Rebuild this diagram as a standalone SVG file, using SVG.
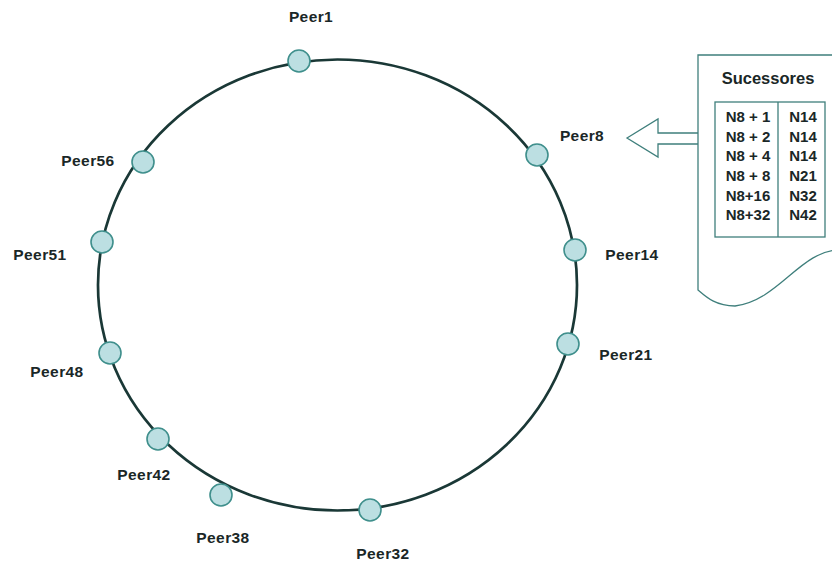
<svg xmlns="http://www.w3.org/2000/svg" width="832" height="562" viewBox="0 0 832 562">
<style>
.lbl{font-family:"Liberation Sans",Arial,sans-serif;font-weight:bold;font-size:15.5px;fill:#1a2727;letter-spacing:0.4px}
.tb{font-family:"Liberation Sans",Arial,sans-serif;font-weight:bold;font-size:15px;fill:#1a2727}
.node{fill:#bcdfe2;stroke:#3f8f8c;stroke-width:1.6}
.doc{fill:#fff;stroke:#3f7f7c;stroke-width:1.3}
</style>
<rect width="832" height="562" fill="#fff"/>
<g id="connectors">
<ellipse cx="337.5" cy="285" rx="239.5" ry="225.5" fill="none" stroke="#1a3836" stroke-width="2.7"/>
<path d="M627,138 L658,119 L658,133 L699,133 L699,144 L658,144 L658,157 Z" fill="#fff" stroke="#3f7f7c" stroke-width="1.3"/>
</g>
<g id="peer1"><circle class="node" cx="299" cy="61" r="11"/><text class="lbl" x="311" y="22" text-anchor="middle">Peer1</text></g>
<g id="peer8"><circle class="node" cx="537" cy="155" r="11"/><text class="lbl" x="582" y="141" text-anchor="middle">Peer8</text></g>
<g id="peer14"><circle class="node" cx="575" cy="250" r="11"/><text class="lbl" x="632" y="260" text-anchor="middle">Peer14</text></g>
<g id="peer21"><circle class="node" cx="568" cy="344" r="11"/><text class="lbl" x="626" y="360" text-anchor="middle">Peer21</text></g>
<g id="peer32"><circle class="node" cx="370" cy="510" r="11"/><text class="lbl" x="383" y="559" text-anchor="middle">Peer32</text></g>
<g id="peer38"><circle class="node" cx="221" cy="495" r="11"/><text class="lbl" x="223" y="543" text-anchor="middle">Peer38</text></g>
<g id="peer42"><circle class="node" cx="158" cy="439" r="11"/><text class="lbl" x="144" y="480" text-anchor="middle">Peer42</text></g>
<g id="peer48"><circle class="node" cx="110" cy="353" r="11"/><text class="lbl" x="57" y="377" text-anchor="middle">Peer48</text></g>
<g id="peer51"><circle class="node" cx="102" cy="242" r="11"/><text class="lbl" x="40" y="260" text-anchor="middle">Peer51</text></g>
<g id="peer56"><circle class="node" cx="143" cy="162" r="11"/><text class="lbl" x="88" y="166" text-anchor="middle">Peer56</text></g>
<g id="successors">
<path class="doc" d="M698,55 L840,55 L840,250 C800,250 780,300 735,306 C715,306 705,296 698,290 Z"/>
<text class="tb" x="768" y="84" text-anchor="middle" style="font-size:16.5px">Sucessores</text>
<rect x="715" y="102" width="110" height="135" fill="none" stroke="#3f7f7c" stroke-width="1.3"/>
<line x1="778" y1="102" x2="778" y2="237" stroke="#3f7f7c" stroke-width="1.3"/>
<g class="tb" text-anchor="middle">
<text x="748" y="122">N8 + 1</text><text x="803" y="122">N14</text>
<text x="748" y="142">N8 + 2</text><text x="803" y="142">N14</text>
<text x="748" y="161">N8 + 4</text><text x="803" y="161">N14</text>
<text x="748" y="181">N8 + 8</text><text x="803" y="181">N21</text>
<text x="748" y="201">N8+16</text><text x="803" y="201">N32</text>
<text x="748" y="220">N8+32</text><text x="803" y="220">N42</text>
</g>
</g>
</svg>
